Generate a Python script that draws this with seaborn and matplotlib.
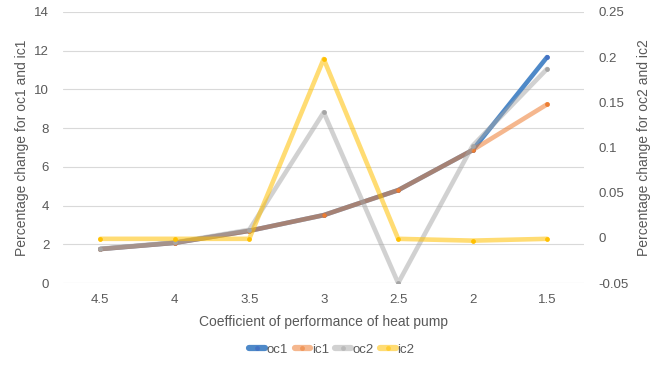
import pandas as pd
import seaborn as sns
import matplotlib.pyplot as plt
from matplotlib.lines import Line2D

# valores
cop = ['4.5', '4', '3.5', '3', '2.5', '2', '1.5']
oc1 = [1.76, 2.08, 2.70, 3.51, 4.80, 6.87, 11.67]
ic1 = [1.76, 2.08, 2.70, 3.51, 4.80, 6.87, 9.23]
oc2 = [-0.012, -0.005, 0.009, 0.139, -0.05, 0.102, 0.187]
ic2 = [-0.001, -0.001, -0.001, 0.198, -0.001, -0.003, -0.001]

df = pd.DataFrame({'cop': cop, 'oc1': oc1, 'ic1': ic1, 'oc2': oc2, 'ic2': ic2})

sns.set_style('white')
plt.rcParams['font.family'] = ['Liberation Sans', 'DejaVu Sans']
txt = '#595959'

cores = {'oc1': '#3f7fc4', 'ic1': '#ed7d31', 'oc2': '#a5a5a5', 'ic2': '#ffc000'}
alfas = {'oc1': 0.92, 'ic1': 0.55, 'oc2': 0.5, 'ic2': 0.55}
pontos = {'oc1': '#4472c4', 'ic1': '#ed7d31', 'oc2': '#a5a5a5', 'ic2': '#ffc000'}

fig = plt.figure(figsize=(6.64, 3.74), dpi=100)
ax = fig.add_axes([0.095, 0.243, 0.785, 0.725])
ax2 = ax.twinx()

for nome, eixo in [('oc1', ax), ('ic1', ax), ('oc2', ax2), ('ic2', ax2)]:
    sns.lineplot(data=df, x='cop', y=nome, ax=eixo, sort=False, color=cores[nome],
                 linewidth=3.3, alpha=alfas[nome], solid_capstyle='round')
    sns.scatterplot(data=df, x='cop', y=nome, ax=eixo, color=pontos[nome],
                    s=12, linewidth=0, zorder=3)

ax.set_ylim(0, 14)
ax.set_yticks(range(0, 15, 2))
ax2.set_ylim(-0.05, 0.25)
ax2.set_yticks([-0.05, 0, 0.05, 0.1, 0.15, 0.2, 0.25])
ax2.set_yticklabels(['-0.05', '0', '0.05', '0.1', '0.15', '0.2', '0.25'])
ax.set_xlim(-0.5, 6.5)

ax.grid(axis='y', color='#d9d9d9', linewidth=0.8)
ax.set_axisbelow(True)
for a in (ax, ax2):
    for s in a.spines.values():
        s.set_visible(False)
    a.tick_params(length=0, colors=txt, labelsize=9.5)

ax.tick_params(axis='x', pad=8)
ax.tick_params(axis='y', pad=10)
ax2.tick_params(axis='y', pad=10)

ax.set_xlabel('Coefficient of performance of heat pump', color=txt, fontsize=10, labelpad=6)
ax.set_ylabel('Percentage change for oc1 and ic1', color=txt, fontsize=10, labelpad=4)
ax2.set_ylabel('Percentage change for oc2 and ic2', color=txt, fontsize=10, labelpad=6)

handles = [Line2D([0], [0], color=cores[n], lw=4.5, alpha=alfas[n], marker='o', markersize=3.5,
                  markerfacecolor=pontos[n], markeredgewidth=0, solid_capstyle='round')
           for n in ['oc1', 'ic1', 'oc2', 'ic2']]
fig.legend(handles, ['oc1', 'ic1', 'oc2', 'ic2'], loc='center', bbox_to_anchor=(0.5, 0.065),
           ncol=4, frameon=False, fontsize=9.5, handlelength=1.2, handletextpad=0.1,
           columnspacing=0.5, labelcolor=txt)

fig.savefig('out.png', dpi=100)
